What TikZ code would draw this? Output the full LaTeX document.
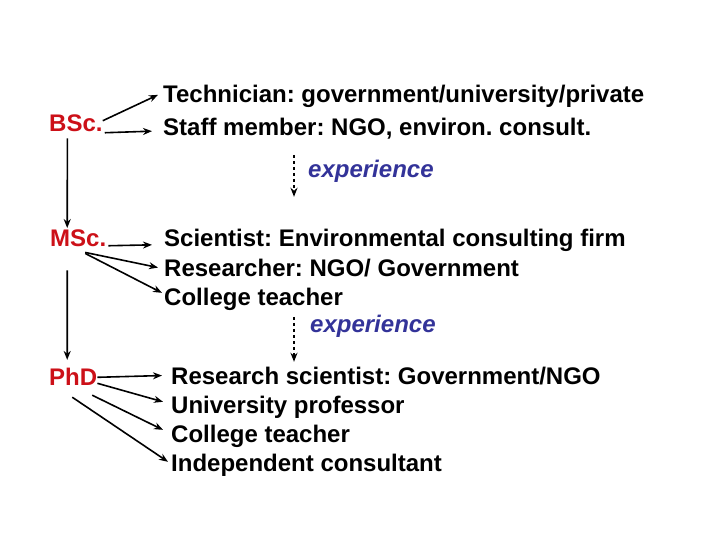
\documentclass[tikz,border=0pt]{standalone}
\usepackage{fontspec}
\setmainfont{Liberation Sans}
\usetikzlibrary{arrows.meta}
\definecolor{degred}{RGB}{204,16,24}
\definecolor{expblue}{RGB}{51,51,153}
\begin{document}
\frenchspacing
\begin{tikzpicture}[x=1pt,y=-1pt,
  txt/.style={anchor=base west,inner sep=0pt,font=\fontsize{24}{28}\selectfont\bfseries},
  deg/.style={txt,text=degred},
  expe/.style={anchor=base west,inner sep=0pt,font=\fontsize{24}{28}\selectfont\bfseries\itshape,text=expblue},
  arr/.style={-{Stealth[length=9pt,width=7pt]},line width=1.6pt},
  darr/.style={arr,line width=1.8pt,dash pattern=on 3.5pt off 2.5pt}]
\useasboundingbox (0,0) rectangle (720,540);
\node[deg] (bsc) at (49,132) {BSc.};
\node[txt] (tech) at (163,103) {Technician: government/university/private};
\node[txt] (staff) at (163,136) {Staff member: NGO, environ. consult.};
\node[expe] (exp1) at (308,178) {experience};
\node[deg] (msc) at (50,247) {MSc.};
\node[txt] (sci) at (164,247) {Scientist: Environmental consulting firm};
\node[txt] (res) at (164,276) {Researcher: NGO/ Government};
\node[txt] (col) at (164,305) {College teacher};
\node[expe] (exp2) at (310,332) {experience};
\node[deg] (phd) at (49,385) {PhD};
\node[txt] (rs) at (171,384) {Research scientist: Government/NGO};
\node[txt] (uni) at (171,413) {University professor};
\node[txt] (col2) at (171,442) {College teacher};
\node[txt] (ind) at (171,471) {Independent consultant};
% BSc
\draw[arr] ([yshift=3pt]bsc.east) -- ([xshift=-5pt,yshift=2pt]tech.west);
\draw[arr] ([xshift=2pt,yshift=-9pt]bsc.east) -- ([xshift=-11pt,yshift=-2pt]staff.west);
\draw[arr] ([xshift=-8.5pt,yshift=-6pt]bsc.south) -- ([xshift=-11pt,yshift=2pt]msc.north);
% MSc
\draw[arr] ([xshift=2pt,yshift=-7pt]msc.east) -- ([xshift=-12pt,yshift=-4pt]sci.west);
\draw[arr] ([xshift=7pt,yshift=-5pt]msc.south) -- ([xshift=-6pt]res.west);
\draw[arr] ([xshift=7pt,yshift=-6pt]msc.south) -- ([xshift=-2pt,yshift=6pt]col.west);
\draw[arr] ([xshift=-11pt,yshift=-23pt]msc.south) -- ([xshift=-6pt,yshift=7.5pt]phd.north);
% PhD
\draw[arr] ([yshift=-1pt]phd.east) -- ([xshift=-9pt]rs.west);
\draw[arr] ([yshift=-7pt]phd.east) -- ([xshift=-8pt,yshift=5pt]uni.west);
\draw[arr] ([xshift=19pt,yshift=-10pt]phd.south) -- ([xshift=-8pt,yshift=6pt]col2.west);
\draw[arr] ([xshift=-1pt,yshift=-12pt]phd.south) -- ([xshift=-3pt,yshift=3pt]ind.west);
% experience
\draw[darr] ([xshift=-14pt,yshift=17pt]exp1.west) -- ([xshift=-14pt,yshift=-25pt]exp1.west);
\draw[darr] ([xshift=-16pt,yshift=9pt]exp2.west) -- ([xshift=-16pt,yshift=-36pt]exp2.west);
\end{tikzpicture}
\end{document}
